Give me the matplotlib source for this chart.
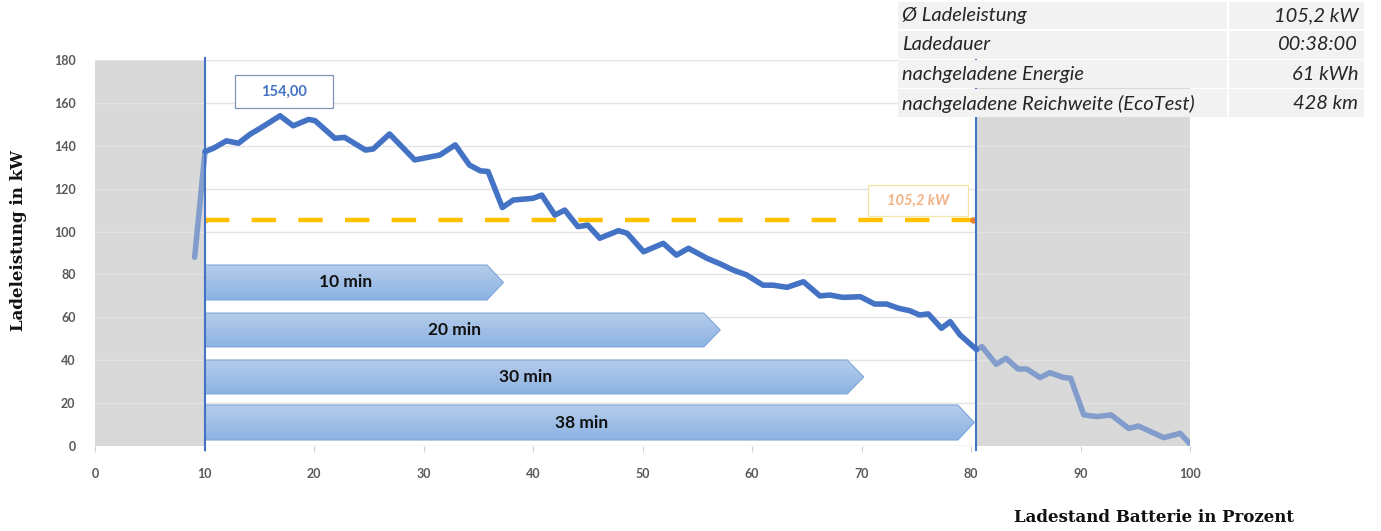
import matplotlib
matplotlib.use("Agg")
import matplotlib.pyplot as plt
import numpy as np
from matplotlib.patches import Polygon, Rectangle

# ---------------- data ----------------
soc = [9.1, 10.05, 10.8, 12.0, 13.1, 14.2, 15.1, 16.9, 18.1, 19.5, 20.1, 21.9, 22.8, 24.7, 25.4,
       26.9, 29.2, 30.3, 31.5, 32.9, 34.2, 35.2, 35.9, 37.2, 38.2, 40.0, 40.8, 42.0, 42.9, 44.1,
       45.0, 46.1, 47.8, 48.6, 50.1, 51.9, 53.1, 54.2, 55.9, 57.1, 58.3, 59.5, 61.0, 61.9, 63.2,
       64.7, 66.2, 67.1, 68.3, 69.9, 71.2, 72.3, 73.4, 74.4, 75.3, 76.1, 77.3, 78.1, 79.0, 80.5,
       81.0, 82.3, 83.2, 84.3, 85.1, 86.3, 87.2, 88.4, 89.1, 90.3, 91.5, 92.8, 94.4, 95.3, 97.6,
       99.1, 100.0]
power = [88, 137.3, 138.8, 142.3, 141.2, 145.5, 148.2, 154.0, 149.3, 152.3, 151.7, 143.5, 143.9, 138, 138.5,
         145.5, 133.4, 134.5, 135.7, 140.4, 131, 128.3, 128, 111.2, 114.7, 115.5, 117, 107.7, 110, 102.3,
         103, 96.9, 100.4, 99.2, 90.6, 94.5, 89, 92.2, 87.5, 84.9, 82, 79.8, 75, 75, 74,
         76.6, 70, 70.4, 69.3, 69.6, 66.2, 66.2, 64.2, 63.1, 61.1, 61.6, 54.9, 58, 51.8, 45,
         46.3, 38.1, 40.9, 35.9, 35.9, 31.9, 34.2, 32, 31.6, 14.5, 13.7, 14.5, 8.2, 9.3, 3.9,
         5.9, 1]

soc_start = 10
soc_end = 80.5
avg_power = 105.2
avg_label = "105,2 kW"
peak_label = "154,00"

arrow_labels = ["10 min", "20 min", "30 min", "38 min"]
arrow_tip = [37.3, 57.1, 70.2, 80.3]
arrow_top = [84.4, 62.0, 40.1, 19.1]
arrow_bottom = [68.1, 46.2, 24.3, 2.8]

table_labels = ["Ø Ladeleistung", "Ladedauer", "nachgeladene Energie", "nachgeladene Reichweite (EcoTest)"]
table_values = ["105,2 kW", "00:38:00", "61 kWh", "428 km"]

x_ticks = list(range(0, 101, 10))
y_ticks = list(range(0, 181, 20))

# ---------------- figure ----------------
W, H = 1381, 531
fig = plt.figure(figsize=(W / 100, H / 100), dpi=100)
ax = fig.add_axes([95 / W, 1 - 446 / H, (1190 - 95) / W, (446 - 60) / H])
ax.set_xlim(0, 100)
ax.set_ylim(0, 180)

sans = ["Lato", "DejaVu Sans"]
serif = ["DejaVu Serif", "Liberation Serif"]

# grey zones
ax.add_patch(Rectangle((0, 0), soc_start, 180, facecolor="#D9D9D9", edgecolor="none", zorder=0))
ax.add_patch(Rectangle((soc_end, 0), 100 - soc_end, 180, facecolor="#D9D9D9", edgecolor="none", zorder=0))

# grid
for yv in y_ticks[1:]:
    ax.axhline(yv, color="#E3E3E3", lw=1, zorder=0.5)
ax.axhline(0, color="#D0D0D0", lw=1, zorder=0.6)

# arrows with gradient
for lab, tip, top, bot in zip(arrow_labels, arrow_tip, arrow_top, arrow_bottom):
    body = tip - 1.5
    mid = (top + bot) / 2
    verts = [(soc_start, bot), (soc_start, top), (body, top), (tip, mid), (body, bot)]
    poly = Polygon(verts, closed=True, facecolor="none", edgecolor="#7EA6D9", lw=0.8, zorder=2.1)
    ax.add_patch(poly)
    grad = np.linspace(0, 1, 64).reshape(-1, 1)
    c_top = np.array([0.71, 0.80, 0.92])
    c_bot = np.array([0.55, 0.70, 0.89])
    img = c_top[None, None, :] * (1 - grad[:, :, None]) + c_bot[None, None, :] * grad[:, :, None]
    im = ax.imshow(img, extent=(soc_start, tip, bot, top), origin="upper", aspect="auto", zorder=2)
    im.set_clip_path(poly)
    ax.text((soc_start + body) / 2, mid, lab, ha="center", va="center", fontsize=12.5,
            fontweight="bold", color="#111111", family=sans, zorder=3)

# charging curve
x = np.array(soc)
y = np.array(power)
blue = "#4472C4"
m1 = x <= soc_start + 0.1
m2 = (x >= soc_start) & (x <= soc_end)
m3 = x >= soc_end
ax.plot(x[m1], y[m1], color="#7393CA", lw=4, solid_capstyle="round", solid_joinstyle="round", zorder=4, alpha=0.85)
ax.plot(x[m3], y[m3], color="#7393CA", lw=4, solid_capstyle="round", solid_joinstyle="round", zorder=4, alpha=0.85)
ax.plot(x[m2], y[m2], color=blue, lw=4, solid_capstyle="round", solid_joinstyle="round", zorder=4.5)

# average line
ax.plot([soc_start, 80.2], [avg_power, avg_power], color="#FFC000", lw=3.2,
        dashes=(5.5, 5), dash_capstyle="butt", zorder=3.5)
ax.plot([80.2], [avg_power], marker="o", ms=3.5, color="#ED7D31", zorder=3.6)
ax.plot([soc_start + 0.1], [avg_power], marker="o", ms=3, color="#F4A460", zorder=3.4)

# vertical markers
ax.axvline(soc_start, color=blue, lw=1.5, zorder=5, ymin=-0.01, ymax=1.005, clip_on=False)
ax.axvline(soc_end, color=blue, lw=1.5, zorder=5, ymin=-0.01, ymax=1.005, clip_on=False)

# label boxes
ax.add_patch(Rectangle((12.8, 157.6), 8.9, 15.4, facecolor="white", edgecolor="#7F93B5", lw=0.9, zorder=6))
ax.text(17.25, 165.3, peak_label, ha="center", va="center", fontsize=10.5, fontweight="bold",
        color="#4472C4", family=sans, zorder=7)
ax.add_patch(Rectangle((70.6, 107.1), 9.1, 14.5, facecolor="white", edgecolor="#F3E6A6", lw=0.9, zorder=6))
ax.text(75.15, 114.3, avg_label, ha="center", va="center", fontsize=10.5, fontweight="bold",
        style="italic", color="#F4B183", family=sans, zorder=7)

# ticks
ax.set_xticks(x_ticks)
ax.set_yticks(y_ticks)
ax.set_xticklabels([str(t) for t in x_ticks], family=sans, fontsize=9, fontweight="bold", color="#595959")
ax.set_yticklabels([str(t) for t in y_ticks], family=sans, fontsize=9, fontweight="bold", color="#595959")
ax.tick_params(axis="y", length=0, pad=14)
ax.tick_params(axis="x", length=4, color="#D0D0D0", pad=12, direction="out")
for s in ax.spines.values():
    s.set_visible(False)

# axis titles
fig.text(19 / W, 1 - 240 / H, "Ladeleistung in kW", rotation=90, ha="center", va="center",
         fontsize=12, fontweight="bold", family=serif, color="#111111")
fig.text(1154 / W, 1 - 518 / H, "Ladestand Batterie in Prozent", ha="center", va="center",
         fontsize=12, fontweight="bold", family=serif, color="#111111")

# table (top right)
x0, x1, x2 = 898, 1228, 1365
row_h = 29.3
for i, (lab, val) in enumerate(zip(table_labels, table_values)):
    top = 1 + i * row_h
    fig.patches.append(Rectangle((x0 / W, 1 - (top + row_h - 1) / H), (x1 - x0 - 1.5) / W, (row_h - 1.5) / H,
                                 transform=fig.transFigure, facecolor="#F2F2F2", edgecolor="none", zorder=10))
    fig.patches.append(Rectangle((x1 / W + 0.0005, 1 - (top + row_h - 1) / H), (x2 - x1 - 1.5) / W, (row_h - 1.5) / H,
                                 transform=fig.transFigure, facecolor="#F2F2F2", edgecolor="none", zorder=10))
    yc = 1 - (top + row_h / 2) / H
    fig.text(902 / W, yc, lab, ha="left", va="center", fontsize=14.5, style="italic",
             family=sans, color="#262626", zorder=11)
    fig.text(1358 / W, yc, val, ha="right", va="center", fontsize=14.5, style="italic",
             family=sans, color="#262626", zorder=11)

fig.savefig("out.png", dpi=100)
